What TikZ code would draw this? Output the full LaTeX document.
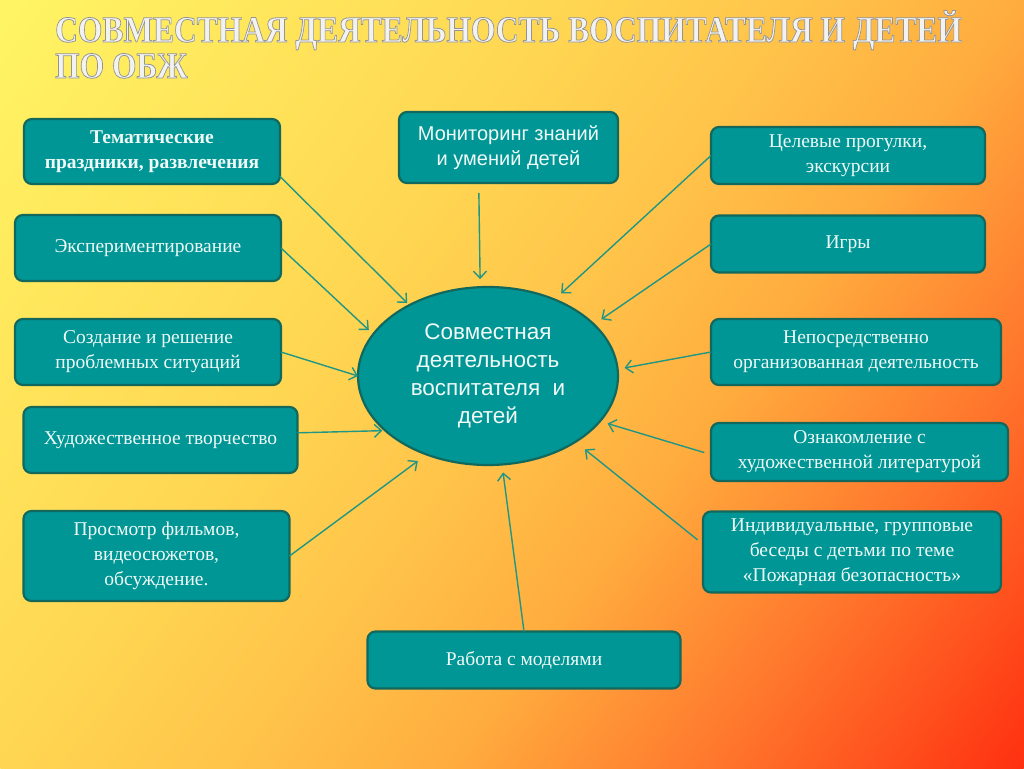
\documentclass[tikz,border=0pt]{standalone}
\usepackage{fontspec}
\setmainfont{Liberation Serif}
\setsansfont{Liberation Sans}
\usetikzlibrary{shapes.geometric}
\usetikzlibrary{arrows.meta}
\definecolor{boxfill}{RGB}{0,150,150}
\definecolor{boxline}{RGB}{18,104,92}
\definecolor{arrowcol}{RGB}{32,150,132}
\definecolor{boxtext}{RGB}{240,250,246}
\definecolor{bgA}{RGB}{255,245,100}
\definecolor{bgB}{RGB}{255,214,82}
\definecolor{bgC}{RGB}{255,196,74}
\definecolor{bgD}{RGB}{255,172,62}
\definecolor{bgE}{RGB}{255,120,45}
\definecolor{bgF}{RGB}{255,48,16}
\pgfdeclarehorizontalshading{slidebg}{100bp}{color(0bp)=(bgA); color(25bp)=(bgA); color(43bp)=(bgB); color(50bp)=(bgC); color(57bp)=(bgD); color(65bp)=(bgE); color(75bp)=(bgF); color(100bp)=(bgF)}
\newcommand{\boxfont}{\fontsize{19.5}{25}\selectfont}
\newcommand{\ovalfont}{\sffamily\fontsize{22.5}{28}\selectfont}
\newcommand{\titlefont}{\bfseries\fontsize{37}{37}\selectfont}
\newcommand{\outlinetext}[1]{\special{pdf:literal direct 0.58 0.58 0.58 RG 0.8 w 2 Tr}#1\special{pdf:literal direct 0 Tr}}

\begin{document}
\begin{tikzpicture}[x=1pt,y=-1pt]
	\tikzset{box/.style={draw=boxline, line width=2.2pt, fill=boxfill, rounded corners=8pt, text=boxtext, align=center, inner sep=0pt, outer sep=0pt, font=\boxfont},
		arr/.style={draw=arrowcol, line width=1.4pt, -{Straight Barb[length=7pt,width=13pt]}}}
	
	% Background of the slide
	\useasboundingbox (0,0) rectangle (1024,768);
	\begin{scope}
		\clip (0,0) rectangle (1024,768);
		\shade[shading=slidebg, shading angle=-36.87] (512,384) circle (640pt);
	\end{scope}
	
	% Title
	\node[anchor=base west, inner sep=0pt, text=white!90!gray, font=\titlefont] (title) at (55,42) {\scalebox{0.85}[1]{\outlinetext{СОВМЕСТНАЯ ДЕЯТЕЛЬНОСТЬ ВОСПИТАТЕЛЯ И ДЕТЕЙ}}};
	\node[anchor=base west, inner sep=0pt, text=white!90!gray, font=\titlefont] (titleb) at (55,78) {\scalebox{0.85}[1]{\outlinetext{ПО ОБЖ}}};
	
	% Central oval
	\node[ellipse, draw=boxline, line width=2.2pt, fill=boxfill, minimum width=260pt, minimum height=178pt, inner sep=0pt, outer sep=0pt, text=boxtext, align=center, font=\ovalfont] (sov) at (488,376) {Совместная\\деятельность\\воспитателя\ \ и\\детей};
	
	% Left column
	\node[box, minimum width=256pt, minimum height=65pt, font=\boxfont\bfseries] (tema) at (152,151.5) {Тематические\\праздники, развлечения};
	\node[box, minimum width=266pt, minimum height=66pt] (exper) at (148,248) {Экспериментирование};
	\node[box, minimum width=266pt, minimum height=66pt] (sozd) at (148,352) {Создание и решение\\проблемных ситуаций};
	\node[box, minimum width=274pt, minimum height=66pt] (hud) at (160.5,440) {Художественное творчество};
	\node[box, minimum width=266pt, minimum height=90pt] (film) at (156.5,556) {Просмотр фильмов,\\видеосюжетов,\\обсуждение.};
	
	% Top and bottom
	\node[box, minimum width=219pt, minimum height=71pt, font=\sffamily\fontsize{20}{25}\selectfont] (monit) at (508.5,147.5) {Мониторинг знаний\\и умений детей};
	\node[box, minimum width=313pt, minimum height=57pt] (rabota) at (524,660) {Работа с моделями};
	
	% Right column
	\node[box, minimum width=274pt, minimum height=57pt] (celev) at (848,155.5) {Целевые прогулки,\\экскурсии};
	\node[box, minimum width=274pt, minimum height=57pt] (igry) at (848,244) {Игры};
	\node[box, minimum width=290pt, minimum height=66pt] (neposr) at (856,352) {Непосредственно\\организованная деятельность};
	\node[box, minimum width=297pt, minimum height=58pt] (oznak) at (859.5,452) {Ознакомление с\\художественной литературой};
	\node[box, minimum width=298pt, minimum height=81pt] (indiv) at (852,552) {Индивидуальные, групповые\\беседы с детьми по теме\\«Пожарная безопасность»};
	
	% Arrows into the oval
	\draw[arr, shorten >=3pt] (tema.-11.6) -- (sov.138);
	\draw[arr, shorten >=6pt] (exper.east) -- (sov.160.4);
	\draw[arr] (sozd.east) -- (sov.180);
	\draw[arr, shorten >=3pt] (hud.3) -- (sov.208.1);
	\draw[arr, shorten >=11pt] (film.east) -- (sov.232.7);
	\draw[arr, shorten <=10pt, shorten >=8pt] (monit.230.3) -- (sov.95.3);
	\draw[arr, shorten >=8pt] (rabota.north) -- (sov.279.5);
	\draw[arr, shorten >=9pt] (celev.west) -- (sov.49.1);
	\draw[arr, shorten >=9pt] (igry.west) -- (sov.26.8);
	\draw[arr, shorten >=7pt] (neposr.west) -- (sov.3.3);
	\draw[arr, shorten <=7pt, shorten >=8pt] (oznak.181.4) -- (sov.338.8);
	\draw[arr, shorten <=7pt, shorten >=12pt] (indiv.177.1) -- (sov.323);
	
\end{tikzpicture}
\end{document}
